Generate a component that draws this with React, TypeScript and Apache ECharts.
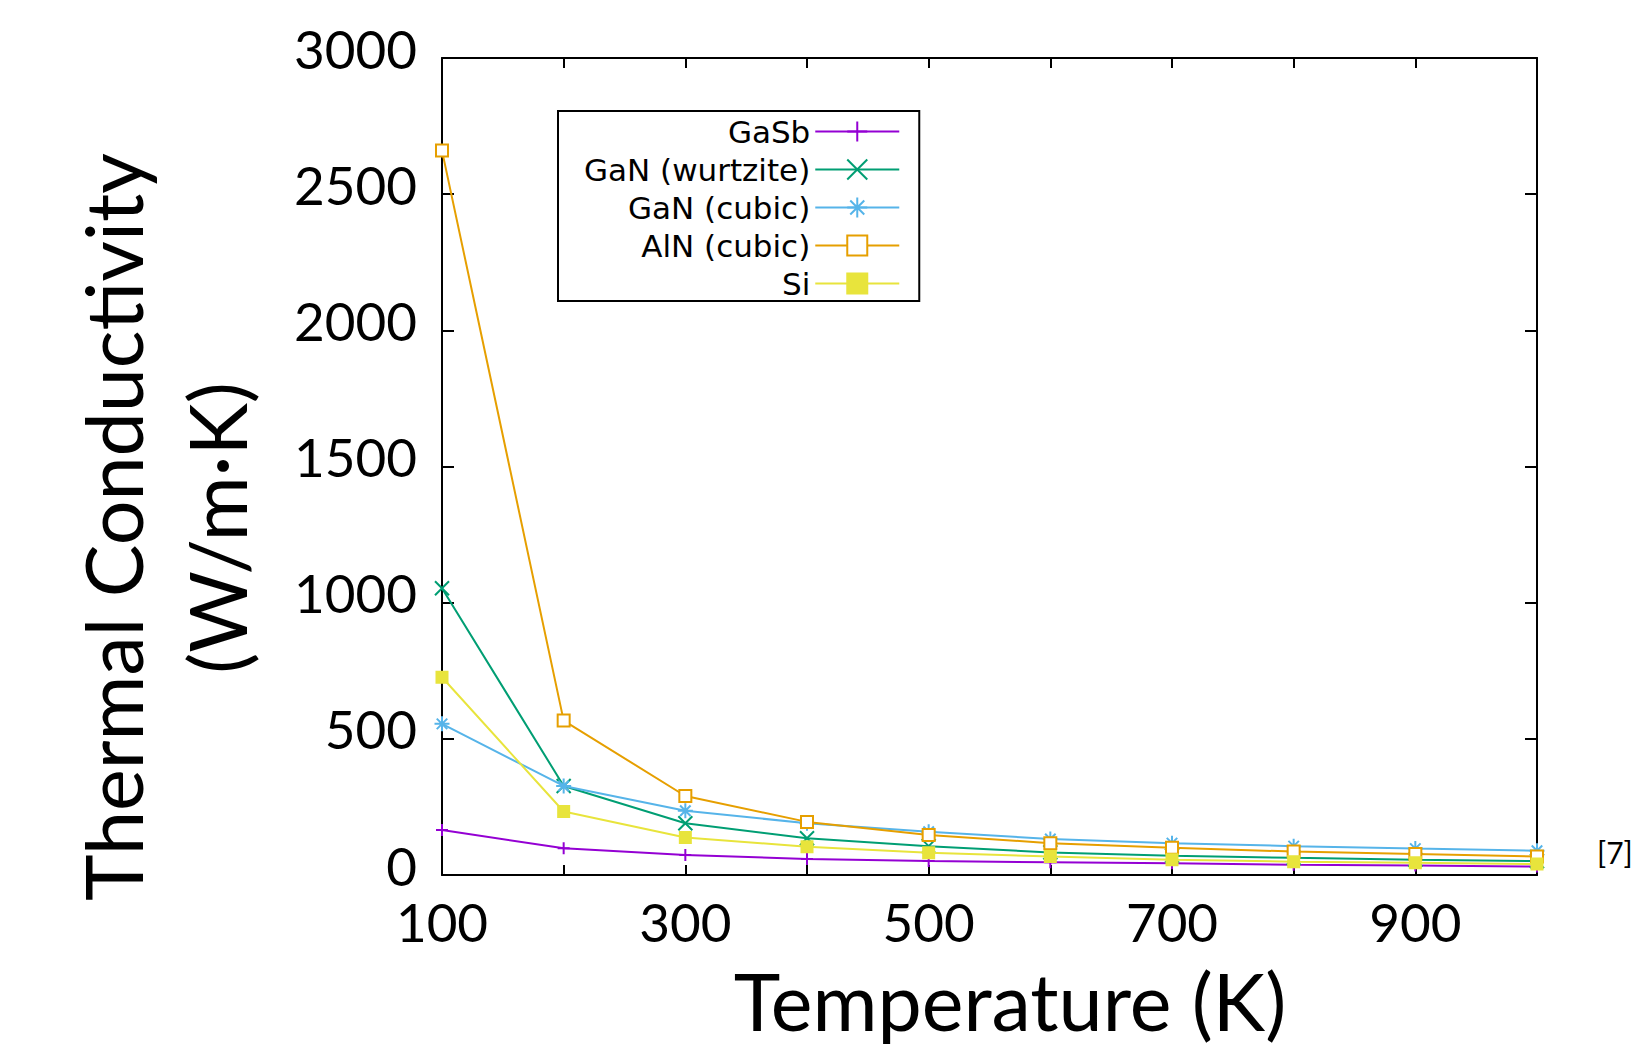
import React, { useEffect, useRef } from "react";
import * as echarts from "echarts";

const temperatures = [100, 200, 300, 400, 500, 600, 700, 800, 900, 1000];
const seriesNames = ["GaSb", "GaN (wurtzite)", "GaN (cubic)", "AlN (cubic)", "Si"];
const gaSb = [165, 98, 73, 59, 51, 47, 43, 38, 35, 31];
const ganWurtzite = [1053, 327, 190, 135, 106, 83, 71, 63, 56, 51];
const ganCubic = [555, 327, 236, 190, 159, 132, 117, 106, 97, 89];
const alnCubic = [2660, 567, 290, 195, 147, 117, 100, 86, 77, 68];
const si = [726, 233, 138, 104, 82, 68, 56, 49, 45, 40];
const colors = ["#9400d3", "#009e73", "#56b4e9", "#e69f00", "#e8e43c"];
const symbols = [
  "path://M5,0L5,10M0,5L10,5",
  "path://M0,0L10,10M0,10L10,0",
  "path://M5,0L5,10M0,5L10,5M1.5,1.5L8.5,8.5M1.5,8.5L8.5,1.5",
  "emptyRect",
  "rect",
];
const symbolSizes = [12, 14, 15, 12, 11];
const allValues = [gaSb, ganWurtzite, ganCubic, alnCubic, si];

export default function App() {
  const ref = useRef<HTMLDivElement>(null);
  useEffect(() => {
    const chart = echarts.init(ref.current!, null, { renderer: "svg" });
    const series = seriesNames.map((name, i) => ({
      name,
      type: "line",
      data: temperatures.map((t, j) => [t, allValues[i][j]]),
      symbol: symbols[i],
      symbolSize: symbolSizes[i],
      showAllSymbol: true,
      lineStyle: { color: colors[i], width: 2 },
      itemStyle: { color: colors[i], borderColor: colors[i], borderWidth: 2 },
      emphasis: { disabled: true },
      z: 2 + i,
    }));
    const tickFont = { fontFamily: "Lato", fontSize: 53, color: "#000" };
    const axisLine = { show: true, onZero: false, lineStyle: { color: "#000", width: 2 } };
    chart.setOption({
      animation: false,
      backgroundColor: "#fff",
      grid: { left: 442, right: 96, top: 58, bottom: 169 },
      xAxis: [
        {
          type: "value",
          min: 100,
          max: 1000,
          interval: 100,
          axisLine,
          axisTick: { show: true, inside: true, length: 10, lineStyle: { color: "#000", width: 2 } },
          axisLabel: {
            ...tickFont,
            margin: 20,
            formatter: (v: number) => ((v - 100) % 200 === 0 ? String(v) : ""),
          },
          splitLine: { show: false },
        },
        {
          type: "value",
          position: "top",
          min: 100,
          max: 1000,
          interval: 100,
          axisLine,
          axisTick: { show: true, inside: true, length: 10, lineStyle: { color: "#000", width: 2 } },
          axisLabel: { show: false },
          splitLine: { show: false },
        },
      ],
      yAxis: [
        {
          type: "value",
          min: 0,
          max: 3000,
          interval: 500,
          axisLine,
          axisTick: { show: true, inside: true, length: 12, lineStyle: { color: "#000", width: 2 } },
          axisLabel: {
            ...tickFont,
            margin: 25,
            verticalAlign: "bottom",
            lineHeight: 20,
            formatter: (v: number) => String(v),
          },
          splitLine: { show: false },
        },
        {
          type: "value",
          position: "right",
          min: 0,
          max: 3000,
          interval: 500,
          axisLine,
          axisTick: { show: true, inside: true, length: 12, lineStyle: { color: "#000", width: 2 } },
          axisLabel: { show: false },
          splitLine: { show: false },
        },
      ],
      legend: {
        data: seriesNames,
        orient: "vertical",
        align: "right",
        left: 558,
        top: 111,
        padding: [5, 19, 2, 26],
        itemGap: 7,
        itemWidth: 84,
        itemHeight: 25,
        backgroundColor: "#fff",
        borderColor: "#000",
        borderWidth: 2,
        itemStyle: { borderWidth: 2 },
        textStyle: { fontFamily: "DejaVu Sans", fontSize: 31, color: "#000" },
        selectedMode: false,
      },
      graphic: [
        {
          type: "text",
          x: 112,
          y: 527,
          rotation: Math.PI / 2,
          style: {
            text: "Thermal Conductivity",
            fontFamily: "Lato",
            fontSize: 79,
            fill: "#000",
            align: "center",
            verticalAlign: "middle",
          },
        },
        {
          type: "text",
          x: 216,
          y: 528,
          rotation: Math.PI / 2,
          style: {
            text: "(W/m·K)",
            fontFamily: "Lato",
            fontSize: 79,
            fill: "#000",
            align: "center",
            verticalAlign: "middle",
          },
        },
        {
          type: "text",
          x: 1010,
          y: 1000,
          style: {
            text: "Temperature (K)",
            fontFamily: "Lato",
            fontSize: 79,
            fill: "#000",
            align: "center",
            verticalAlign: "middle",
          },
        },
        {
          type: "text",
          x: 1597,
          y: 852,
          style: {
            text: "[7]",
            fontFamily: "Lato",
            fontSize: 30,
            fill: "#000",
            align: "left",
            verticalAlign: "middle",
          },
        },
      ],
      series,
    });
    return () => chart.dispose();
  }, []);
  return (
    <div
      ref={ref}
      style={{ position: "fixed", left: 0, top: 0, width: 1633, height: 1044 }}
    />
  );
}
